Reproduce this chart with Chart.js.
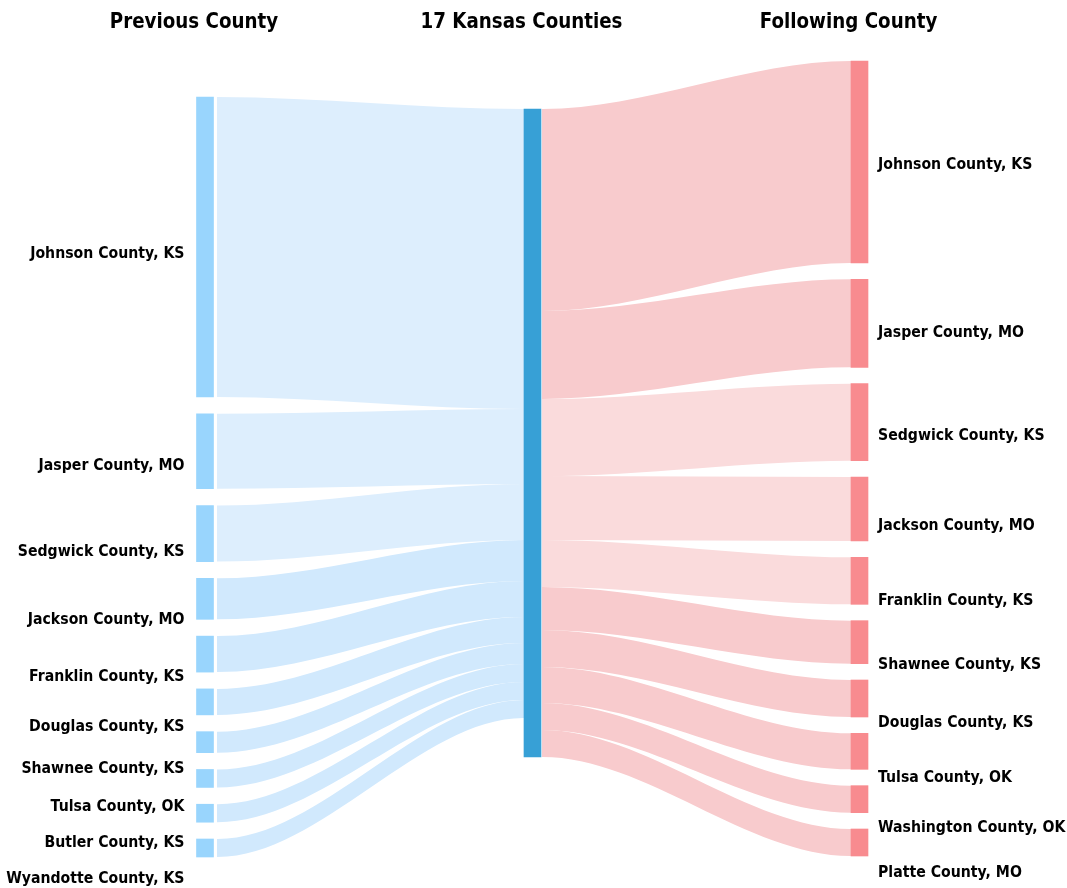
<!DOCTYPE html>
<html><head><meta charset="utf-8">
<script src="https://cdn.jsdelivr.net/npm/chart.js@4.4.1/dist/chart.umd.min.js"></script>
<style>html,body{margin:0;padding:0;background:#fff}</style>
</head><body>
<canvas id="c" width="1067" height="888"></canvas>
<script>
// ---------------- DATA ----------------
const columnTitles = ['Previous County', '17 Kansas Counties', 'Following County'];
const centerName = '17 Kansas Counties';
const previousCounties = ['Johnson County, KS','Jasper County, MO','Sedgwick County, KS','Jackson County, MO','Franklin County, KS','Douglas County, KS','Shawnee County, KS','Tulsa County, OK','Butler County, KS','Wyandotte County, KS'];
const previousValues = [300, 75, 56, 41, 36, 26, 21, 18, 18, 18];
const followingCounties = ['Johnson County, KS','Jasper County, MO','Sedgwick County, KS','Jackson County, MO','Franklin County, KS','Shawnee County, KS','Douglas County, KS','Tulsa County, OK','Washington County, OK','Platte County, MO'];
const followingValues = [202, 88, 77, 64, 47, 43, 37, 36, 27, 27];
const centerTotal = 648;

// ---------------- LAYOUT / STYLE ----------------
const COL_X = [205, 532.5, 859.5];
const COL_TOP = [97, 109, 61];
const COL_BOTTOM = [857, null, 856];
const NODE_W = 17;
const LINK_X = [[COL_X[0] + 12, COL_X[1] - 8.5], [COL_X[1] + 9.5, COL_X[2] - 8.5]];
const NODE_COLORS = ['#99d5fd', '#37a0d6', '#f88b8f'];
const prevFlowColors = ['#ddeefd','#ddeefd','#ddeefd','#d1e9fd','#d1e9fd','#d1e9fd','#d1e9fd','#d1e9fd','#d1e9fd','#d1e9fd'];
const follFlowColors = ['#f8cbcd','#f8cbcd','#fadbdc','#fadbdc','#fadbdc','#f8cbcd','#f8cbcd','#f8cbcd','#f8cbcd','#f8cbcd'];
const FONT = '"DejaVu Sans", Verdana, sans-serif';
const LABEL_SX = 0.94, TITLE_SX = 0.87;

function stackColumn(values, top, bottom) {
  const sum = values.reduce((a, b) => a + b, 0);
  const gap = (bottom - top - sum) / (values.length - 1);
  let y = top;
  return values.map(v => { const n = {y0: y, y1: y + v}; y += v + gap; return n; });
}
const leftNodes = stackColumn(previousValues, COL_TOP[0], COL_BOTTOM[0]);
const rightNodes = stackColumn(followingValues, COL_TOP[2], COL_BOTTOM[2]);
const centerNode = {y0: COL_TOP[1], y1: COL_TOP[1] + centerTotal};

const flowSets = [];
function addFlow(x0, x1, a0, a1, b0, b1, color) {
  const d = 0.5;
  const edge = (ya, yb) => [{x: x0, y: ya}, {x: x0 + d, y: ya}, {x: x1 - d, y: yb}, {x: x1, y: yb}];
  const common = {type: 'line', pointRadius: 0, borderWidth: 0, borderColor: 'rgba(0,0,0,0)', cubicInterpolationMode: 'monotone'};
  flowSets.push(Object.assign({}, common, {data: edge(a0, b0), fill: '+1', backgroundColor: color}));
  flowSets.push(Object.assign({}, common, {data: edge(a1, b1), fill: false, backgroundColor: color}));
}
let cy = centerNode.y0;
previousValues.forEach((v, i) => {
  addFlow(LINK_X[0][0], LINK_X[0][1], leftNodes[i].y0, leftNodes[i].y1, cy, cy + v, prevFlowColors[i]);
  cy += v;
});
cy = centerNode.y0;
followingValues.forEach((v, j) => {
  addFlow(LINK_X[1][0], LINK_X[1][1], cy, cy + v, rightNodes[j].y0, rightNodes[j].y1, follFlowColors[j]);
  cy += v;
});

const nodeData = [], nodeColors = [];
leftNodes.forEach(n => { nodeData.push({x: COL_X[0], y: [n.y0, n.y1]}); nodeColors.push(NODE_COLORS[0]); });
nodeData.push({x: COL_X[1], y: [centerNode.y0, centerNode.y1]}); nodeColors.push(NODE_COLORS[1]);
rightNodes.forEach(n => { nodeData.push({x: COL_X[2], y: [n.y0, n.y1]}); nodeColors.push(NODE_COLORS[2]); });

const labelPlugin = {
  id: 'sankeyLabels',
  afterDraw(chart) {
    const {ctx, scales: {x, y}} = chart;
    ctx.save();
    ctx.fillStyle = '#000';
    const draw = (text, px, py, align, size, sx) => {
      ctx.save();
      ctx.translate(px, py);
      ctx.scale(sx, 1);
      ctx.font = 'bold ' + size + 'px ' + FONT;
      ctx.textAlign = align;
      ctx.textBaseline = 'alphabetic';
      ctx.fillText(text, 0, 0);
      ctx.restore();
    };
    columnTitles.forEach((t, i) => draw(t, x.getPixelForValue(COL_X[i]) - 11, 28, 'center', 21, TITLE_SX));
    const labY = (n) => 1.04 * y.getPixelForValue((n.y0 + n.y1) / 2) - 4.5 + 5.5;
    previousCounties.forEach((t, i) => draw(t, x.getPixelForValue(COL_X[0]) - NODE_W / 2 - 12, labY(leftNodes[i]), 'right', 15, LABEL_SX));
    followingCounties.forEach((t, j) => draw(t, x.getPixelForValue(COL_X[2]) + NODE_W / 2 + 10, labY(rightNodes[j]), 'left', 15, LABEL_SX));
    ctx.restore();
  }
};

new Chart(document.getElementById('c'), {
  type: 'bar',
  data: {
    datasets: [
      {type: 'bar', label: centerName, data: nodeData, backgroundColor: nodeColors, barThickness: NODE_W, grouped: false, borderWidth: 0, order: 0},
      ...flowSets.map(s => Object.assign(s, {order: 1}))
    ]
  },
  options: {
    responsive: false,
    animation: false,
    events: [],
    layout: {padding: 0},
    plugins: {legend: {display: false}, tooltip: {enabled: false}, colors: {enabled: false}, filler: {propagate: false}},
    scales: {
      x: {type: 'linear', display: false, min: 0, max: 1067, offset: false},
      y: {type: 'linear', display: false, min: 0, max: 888, reverse: true}
    }
  },
  plugins: [labelPlugin]
});
</script>
</body></html>
